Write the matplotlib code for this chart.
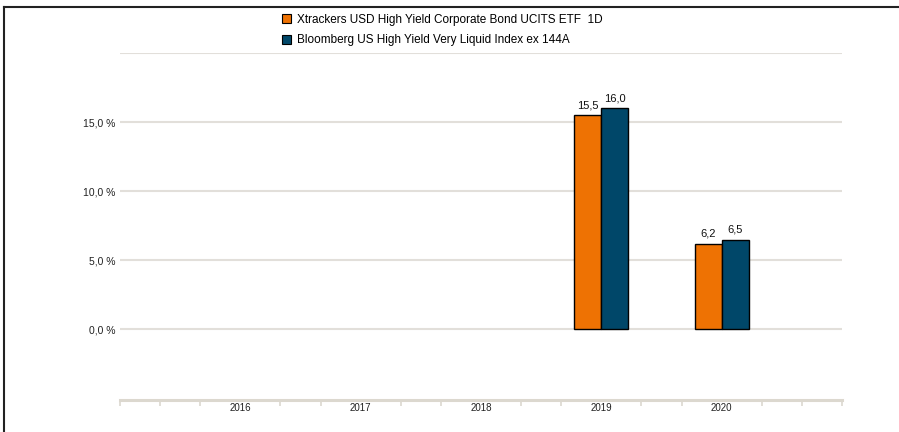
import matplotlib.pyplot as plt
import matplotlib.patches as mpatches
import numpy as np

plt.rcParams['font.family'] = ['Liberation Sans', 'DejaVu Sans']

years = [2016, 2017, 2018, 2019, 2020]
fund = [np.nan, np.nan, np.nan, 15.5, 6.2]
index = [np.nan, np.nan, np.nan, 16.0, 6.5]
fund_name = "Xtrackers USD High Yield Corporate Bond UCITS ETF  1D"
index_name = "Bloomberg US High Yield Very Liquid Index ex 144A"

orange = "#ee7203"
blue = "#004769"
grid_col = "#e2dfda"
axis_col = "#dcd8cf"

fig = plt.figure(figsize=(8.99, 4.32), dpi=100)
ax = fig.add_axes([120 / 899, 1 - 400 / 432, 722 / 899, 347 / 432])

x = np.array(years)
w = 0.225
b1 = ax.bar(x - w / 2, fund, w, color=orange, edgecolor="black", linewidth=1, zorder=3)
b2 = ax.bar(x + w / 2, index, w, color=blue, edgecolor="black", linewidth=1, zorder=3)

for bars, vals in [(b1, fund), (b2, index)]:
    for rect, v in zip(bars, vals):
        if np.isnan(v):
            continue
        ax.text(rect.get_x() + rect.get_width() / 2, v + 0.35, f"{v:.1f}".replace(".", ","),
                ha="center", va="bottom", fontsize=8, color="#111111")

ax.set_xlim(2015, 2021)
ax.set_ylim(-5.1, 20)

for g in [0, 5, 10, 15, 20]:
    ax.axhline(g, color=grid_col, linewidth=1.5, zorder=1)

ax.set_yticks([0, 5, 10, 15])
ax.set_yticklabels([f"{v:.1f} %".replace(".", ",") for v in [0, 5, 10, 15]], fontsize=7.5, color="#222222")
ax.tick_params(axis="y", length=0, pad=3)

ax.set_xticks(years)
ax.set_xticklabels([str(y) for y in years], fontsize=7, color="#222222")
ax.set_xticks(np.arange(2015, 2021.01, 1 / 3), minor=True)
ax.tick_params(axis="x", which="major", length=0, pad=2)
ax.tick_params(axis="x", which="minor", length=4, width=1.2, color=axis_col, direction="out")

for s in ["top", "right", "left"]:
    ax.spines[s].set_visible(False)
ax.spines["bottom"].set_color(axis_col)
ax.spines["bottom"].set_linewidth(2.2)

handles = [mpatches.Patch(facecolor=orange, edgecolor="black", linewidth=0.8, label=fund_name),
           mpatches.Patch(facecolor=blue, edgecolor="black", linewidth=0.8, label=index_name)]
fig.legend(handles=handles, loc="upper left", bbox_to_anchor=(271 / 899, 1 - 3 / 432),
           frameon=False, fontsize=8.5, handlelength=0.8, handleheight=0.8,
           handletextpad=0.5, labelspacing=0.75)

# frame lines at top and left
fig.add_artist(plt.Line2D([4 / 899, 1], [1 - 7 / 432, 1 - 7 / 432], color="#222222", linewidth=1.5))
fig.add_artist(plt.Line2D([4 / 899, 4 / 899], [0, 1 - 7 / 432], color="#222222", linewidth=1.5))

fig.savefig("out.png", dpi=100)
